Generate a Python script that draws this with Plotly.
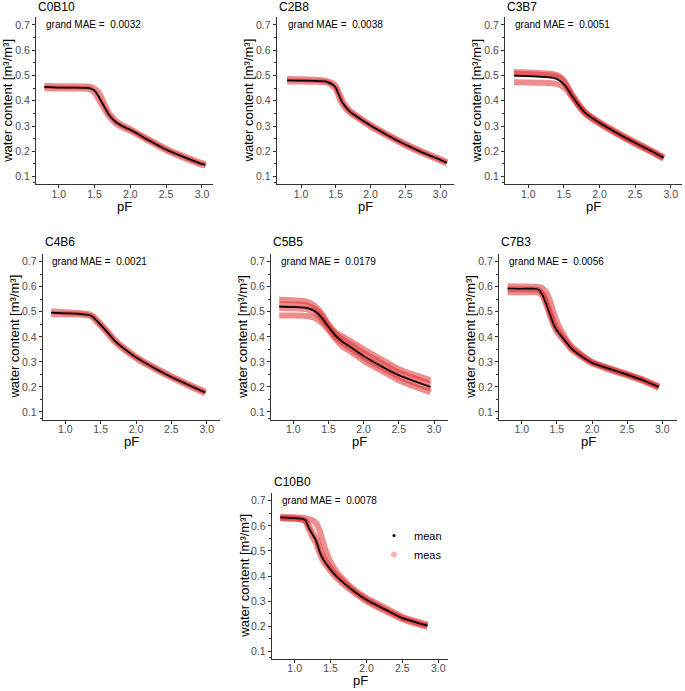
import plotly.graph_objects as go

# ---------------- data ----------------
titles = ["C0B10", "C2B8", "C3B7", "C4B6", "C5B5", "C7B3", "C10B0"]
grand_mae = ["0.0032", "0.0038", "0.0051", "0.0021", "0.0179", "0.0056", "0.0078"]

pf_c0b10 = [0.8, 1.0, 1.2, 1.4, 1.45, 1.5, 1.55, 1.6, 1.65, 1.7, 1.8, 1.9, 2.0, 2.25, 2.5, 2.75, 3.0, 3.05]
mean_c0b10 = [0.455, 0.452, 0.452, 0.451, 0.448, 0.44, 0.42, 0.395, 0.37, 0.345, 0.315, 0.298, 0.285, 0.245, 0.207, 0.177, 0.15, 0.147]
meas_c0b10 = [
    [0.46, 0.458, 0.458, 0.457, 0.455, 0.448, 0.435, 0.41, 0.38, 0.352, 0.32, 0.302, 0.288, 0.248, 0.21, 0.18, 0.153, 0.15],
    [0.45, 0.449, 0.449, 0.448, 0.444, 0.433, 0.41, 0.385, 0.362, 0.34, 0.31, 0.294, 0.282, 0.242, 0.204, 0.174, 0.147, 0.145],
]

pf_c2b8 = [0.8, 1.0, 1.2, 1.35, 1.4, 1.45, 1.5, 1.55, 1.6, 1.7, 1.8, 2.0, 2.25, 2.5, 2.75, 3.0, 3.1]
mean_c2b8 = [0.481, 0.48, 0.479, 0.477, 0.472, 0.465, 0.452, 0.42, 0.391, 0.358, 0.338, 0.302, 0.263, 0.227, 0.195, 0.167, 0.155]
meas_c2b8 = [
    [0.486, 0.485, 0.483, 0.48, 0.476, 0.47, 0.458, 0.43, 0.397, 0.362, 0.341, 0.305, 0.266, 0.23, 0.198, 0.17, 0.158],
    [0.476, 0.476, 0.475, 0.474, 0.469, 0.46, 0.446, 0.414, 0.385, 0.354, 0.335, 0.299, 0.26, 0.224, 0.192, 0.164, 0.153],
]

pf_c3b7 = [0.8, 1.0, 1.2, 1.35, 1.45, 1.5, 1.55, 1.6, 1.65, 1.7, 1.8, 2.0, 2.25, 2.5, 2.75, 2.9]
mean_c3b7 = [0.5, 0.498, 0.495, 0.491, 0.478, 0.465, 0.448, 0.425, 0.405, 0.385, 0.352, 0.313, 0.272, 0.234, 0.198, 0.175]
meas_c3b7 = [
    [0.514, 0.512, 0.509, 0.505, 0.495, 0.48, 0.458, 0.432, 0.41, 0.39, 0.356, 0.316, 0.275, 0.237, 0.201, 0.178],
    [0.506, 0.505, 0.502, 0.498, 0.488, 0.474, 0.452, 0.427, 0.406, 0.386, 0.352, 0.312, 0.271, 0.233, 0.197, 0.174],
    [0.473, 0.472, 0.471, 0.469, 0.462, 0.452, 0.44, 0.42, 0.401, 0.382, 0.349, 0.309, 0.268, 0.23, 0.194, 0.171],
]

pf_c4b6 = [0.8, 1.0, 1.2, 1.35, 1.4, 1.5, 1.6, 1.7, 1.8, 2.0, 2.25, 2.5, 2.75, 2.98]
mean_c4b6 = [0.497, 0.494, 0.492, 0.486, 0.477, 0.448, 0.417, 0.384, 0.36, 0.318, 0.277, 0.24, 0.207, 0.178]
meas_c4b6 = [
    [0.502, 0.498, 0.495, 0.489, 0.481, 0.452, 0.421, 0.388, 0.363, 0.321, 0.28, 0.243, 0.21, 0.181],
    [0.49, 0.49, 0.489, 0.483, 0.474, 0.444, 0.413, 0.38, 0.356, 0.315, 0.274, 0.237, 0.204, 0.175],
]

pf_c5b5 = [0.8, 1.0, 1.2, 1.3, 1.4, 1.5, 1.6, 1.7, 1.8, 2.0, 2.25, 2.5, 2.75, 2.95]
mean_c5b5 = [0.521, 0.519, 0.515, 0.503, 0.478, 0.44, 0.405, 0.38, 0.362, 0.323, 0.283, 0.247, 0.22, 0.2]
meas_c5b5 = [
    [0.548, 0.546, 0.54, 0.525, 0.495, 0.45, 0.418, 0.402, 0.385, 0.35, 0.31, 0.271, 0.245, 0.226],
    [0.53, 0.529, 0.525, 0.512, 0.485, 0.445, 0.41, 0.389, 0.372, 0.335, 0.295, 0.257, 0.231, 0.211],
    [0.515, 0.514, 0.51, 0.498, 0.472, 0.436, 0.4, 0.376, 0.357, 0.319, 0.279, 0.242, 0.214, 0.194],
    [0.485, 0.485, 0.483, 0.476, 0.458, 0.428, 0.392, 0.362, 0.345, 0.305, 0.265, 0.227, 0.199, 0.179],
]

pf_c7b3 = [0.8, 1.0, 1.2, 1.25, 1.3, 1.35, 1.4, 1.45, 1.5, 1.6, 1.7, 1.8, 2.0, 2.25, 2.5, 2.75, 2.95]
mean_c7b3 = [0.593, 0.592, 0.592, 0.586, 0.565, 0.53, 0.49, 0.452, 0.425, 0.39, 0.355, 0.332, 0.297, 0.272, 0.249, 0.224, 0.2]
meas_c7b3 = [
    [0.602, 0.601, 0.6, 0.598, 0.592, 0.578, 0.545, 0.5, 0.46, 0.405, 0.365, 0.34, 0.3, 0.275, 0.252, 0.227, 0.203],
    [0.59, 0.59, 0.589, 0.585, 0.57, 0.54, 0.5, 0.46, 0.432, 0.395, 0.358, 0.335, 0.298, 0.272, 0.249, 0.224, 0.2],
    [0.578, 0.578, 0.578, 0.575, 0.562, 0.528, 0.486, 0.448, 0.42, 0.386, 0.352, 0.33, 0.294, 0.269, 0.246, 0.221, 0.197],
]

pf_c10b0 = [0.8, 1.0, 1.1, 1.15, 1.2, 1.25, 1.3, 1.35, 1.4, 1.5, 1.6, 1.8, 2.0, 2.25, 2.5, 2.75, 2.85]
mean_c10b0 = [0.634, 0.631, 0.628, 0.622, 0.59, 0.565, 0.54, 0.495, 0.465, 0.425, 0.393, 0.345, 0.305, 0.268, 0.232, 0.21, 0.202]
meas_c10b0 = [
    [0.636, 0.634, 0.632, 0.63, 0.627, 0.622, 0.61, 0.58, 0.53, 0.455, 0.41, 0.352, 0.312, 0.275, 0.238, 0.215, 0.206],
    [0.631, 0.629, 0.626, 0.62, 0.6, 0.575, 0.55, 0.51, 0.475, 0.432, 0.398, 0.347, 0.306, 0.268, 0.233, 0.209, 0.201],
    [0.63, 0.628, 0.625, 0.618, 0.585, 0.555, 0.53, 0.49, 0.458, 0.42, 0.388, 0.34, 0.3, 0.262, 0.228, 0.205, 0.198],
]

pf_list = [pf_c0b10, pf_c2b8, pf_c3b7, pf_c4b6, pf_c5b5, pf_c7b3, pf_c10b0]
mean_list = [mean_c0b10, mean_c2b8, mean_c3b7, mean_c4b6, mean_c5b5, mean_c7b3, mean_c10b0]
meas_list = [meas_c0b10, meas_c2b8, meas_c3b7, meas_c4b6, meas_c5b5, meas_c7b3, meas_c10b0]

x_tick_vals = [1.0, 1.5, 2.0, 2.5, 3.0]
x_tick_text = ["1.0", "1.5", "2.0", "2.5", "3.0"]
y_tick_vals = [0.1, 0.2, 0.3, 0.4, 0.5, 0.6, 0.7]
y_tick_text = ["0.1", "0.2", "0.3", "0.4", "0.5", "0.6", "0.7"]
y_minor_vals = [0.075, 0.15, 0.25, 0.35, 0.45, 0.55, 0.65]

# ---------------- layout (pixels) ----------------
W, H = 685, 691
# left, right, top, bottom of each plot area in pixels
panel_px = [
    (36, 213, 17.4, 184.2),
    (276.7, 453.7, 17.4, 184.2),
    (505, 682, 17.4, 184.2),
    (42.7, 220, 254.2, 419.5),
    (271, 448, 254.2, 419.5),
    (499, 677, 254.2, 419.5),
    (271.7, 448.3, 493.2, 658.8),
]
x_ranges = [
    [0.683, 3.154],
    [0.65, 3.197],
    [0.673, 3.159],
    [0.68, 3.188],
    [0.683, 3.199],
    [0.677, 3.209],
    [0.68, 3.14],
]
y_range = [0.07, 0.73]
title_y_px = [7, 7, 7, 242, 242, 242, 482]

FONT = "Liberation Sans, Arial, Helvetica, sans-serif"
meas_color = "rgba(220,50,50,0.55)"

fig = go.Figure()
annotations = []
layout_axes = {}

for i in range(7):
    sfx = "" if i == 0 else str(i + 1)
    xa, ya = "x" + sfx, "y" + sfx
    for rep in meas_list[i]:
        fig.add_trace(go.Scatter(
            x=pf_list[i], y=rep, mode="lines",
            line=dict(color=meas_color, width=6, shape="spline", smoothing=0.5),
            xaxis=xa, yaxis=ya, showlegend=False, hoverinfo="skip"))
    fig.add_trace(go.Scatter(
        x=pf_list[i], y=mean_list[i], mode="lines",
        line=dict(color="black", width=1.7, shape="spline", smoothing=0.5),
        xaxis=xa, yaxis=ya, showlegend=False, hoverinfo="skip"))

    l, r, t, b = panel_px[i]
    layout_axes["xaxis" + sfx] = dict(
        domain=[l / W, r / W], range=x_ranges[i], anchor=ya,
        showline=True, linecolor="#333333", linewidth=1,
        ticks="outside", ticklen=3, tickcolor="#333333",
        ticklabelstandoff=-3,
        tickmode="array", tickvals=x_tick_vals, ticktext=x_tick_text,
        tickfont=dict(family=FONT, size=10.5, color="#4d4d4d"),
        showgrid=False, zeroline=False)
    layout_axes["yaxis" + sfx] = dict(
        domain=[1 - b / H, 1 - t / H], range=y_range, anchor=xa,
        showline=True, linecolor="#333333", linewidth=1,
        ticks="outside", ticklen=3, tickcolor="#333333",
        tickmode="array", tickvals=y_tick_vals, ticktext=y_tick_text,
        tickfont=dict(family=FONT, size=10.5, color="#4d4d4d"),
        minor=dict(tickmode="array", tickvals=y_minor_vals, ticks="outside",
                   ticklen=2, tickcolor="#333333", showgrid=False),
        showgrid=False, zeroline=False)

    # panel title
    annotations.append(dict(
        text=titles[i], xref="paper", yref="paper",
        x=l / W, y=1 - title_y_px[i] / H, xanchor="left", yanchor="middle",
        showarrow=False, font=dict(family=FONT, size=12, color="black")))
    # grand MAE
    annotations.append(dict(
        text="grand MAE = &nbsp;" + grand_mae[i], xref=xa, yref=ya,
        x=0.79, y=0.7, xanchor="left", yanchor="middle",
        showarrow=False, font=dict(family=FONT, size=10, color="black")))
    # y-axis title
    annotations.append(dict(
        text="water content [m³/m³]", xref="paper", yref="paper",
        x=(l - 28) / W, y=1 - ((t + b) / 2) / H, xanchor="center", yanchor="middle",
        textangle=-90, showarrow=False, font=dict(family=FONT, size=13, color="black")))
    # x-axis title
    annotations.append(dict(
        text="pF", xref="paper", yref="paper",
        x=((l + r) / 2) / W, y=1 - (b + 22) / H, xanchor="center", yanchor="middle",
        showarrow=False, font=dict(family=FONT, size=13, color="black")))

# legend entries
fig.add_trace(go.Scatter(x=[None], y=[None], mode="markers", name="mean",
                         marker=dict(color="black", size=3),
                         xaxis="x7", yaxis="y7"))
fig.add_trace(go.Scatter(x=[None], y=[None], mode="markers", name="meas",
                         marker=dict(color="rgba(236,120,120,0.55)", size=6),
                         xaxis="x7", yaxis="y7"))

fig.update_layout(
    width=W, height=H,
    margin=dict(l=0, r=0, t=0, b=0),
    paper_bgcolor="white", plot_bgcolor="white",
    font=dict(family=FONT),
    annotations=annotations,
    showlegend=True,
    legend=dict(x=374 / W, y=1 - 521 / H, xanchor="left", yanchor="top",
                bgcolor="rgba(0,0,0,0)", font=dict(family=FONT, size=11, color="black"),
                itemwidth=30, tracegroupgap=0),
    **layout_axes,
)

fig.write_html("out.html", config={"displayModeBar": False},
               post_script="document.body.style.margin='0px';")
